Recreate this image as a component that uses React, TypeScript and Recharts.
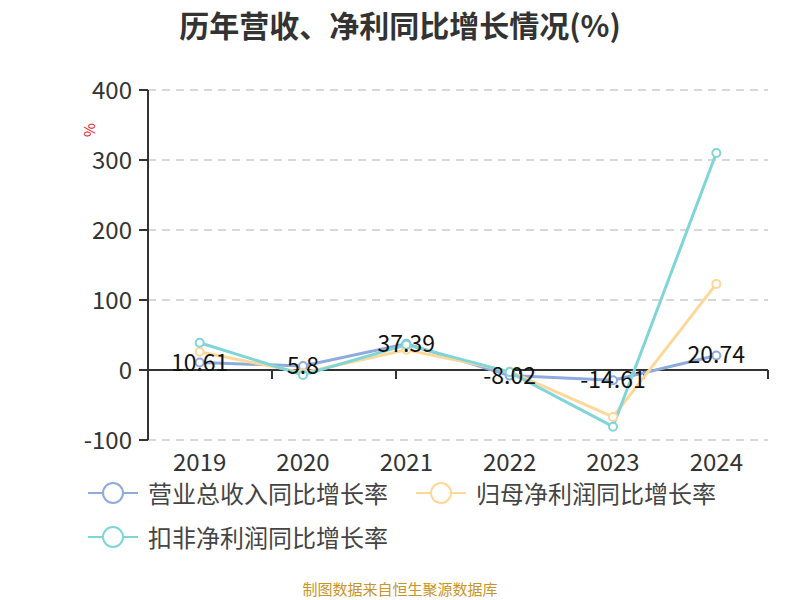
import { LineChart, Line, XAxis, YAxis, CartesianGrid, ReferenceLine, Legend, LabelList } from "recharts";

const years = ["2019", "2020", "2021", "2022", "2023", "2024"];
const revenueGrowth = [10.61, 5.8, 37.39, -8.02, -14.61, 20.74];
const netProfitGrowth = [26, -4, 29, -2, -67, 123];
const deductedProfitGrowth = [39, -7, 36, -3, -81, 310];
const yTicks = [-100, 0, 100, 200, 300, 400];

const SERIES = [
  { key: "revenue", name: "营业总收入同比增长率", color: "#8fabdd" },
  { key: "netProfit", name: "归母净利润同比增长率", color: "#fdd899" },
  { key: "deducted", name: "扣非净利润同比增长率", color: "#80d5d8" },
];

const FONT = "'Noto Sans CJK SC', 'Noto Sans', sans-serif";

const data = years.map((year, i) => ({
  year,
  revenue: revenueGrowth[i],
  netProfit: netProfitGrowth[i],
  deducted: deductedProfitGrowth[i],
}));

// category boundaries, used for the tick marks on the zero line
const boundaries = years.map((_, i) => i).concat(years.length);

const renderLegend = () => (
  <div style={{ display: "flex", flexWrap: "wrap", width: 660, rowGap: 22, columnGap: 28, fontFamily: FONT }}>
    {SERIES.map(s => (
      <div key={s.key} style={{ display: "flex", alignItems: "center", height: 22 }}>
        <svg width={50} height={22}>
          <line x1={0} y1={11} x2={50} y2={11} stroke={s.color} strokeWidth={2} />
          <circle cx={25} cy={11} r={10} fill="#fff" stroke={s.color} strokeWidth={2} />
        </svg>
        <span style={{ marginLeft: 10, fontSize: 24, lineHeight: "22px", color: "#444" }}>{s.name}</span>
      </div>
    ))}
  </div>
);

const renderValueLabel = (props: any) => {
  const { x, y, value } = props;
  return (
    <text x={x} y={y - 2} textAnchor="middle" dominantBaseline="central" fontSize={23} fill="#111" fontFamily={FONT}>
      {value}
    </text>
  );
};

const renderUnit = (props: any) => {
  const { viewBox } = props;
  const x = viewBox.x + viewBox.width - 60;
  const y = viewBox.y + 40;
  return (
    <text x={x} y={y} transform={`rotate(-90, ${x}, ${y})`} textAnchor="middle" dominantBaseline="central" fontSize={15} fill="#e8151b" fontFamily={FONT}>
      %
    </text>
  );
};

const App = () => {
  return (
    <div style={{ position: "absolute", left: 0, top: 0, width: 800, height: 600, background: "#fff", fontFamily: FONT }}>
      <div style={{ position: "absolute", top: 2, width: 800, textAlign: "center", fontSize: 30, fontWeight: "bold", color: "#333" }}>
        历年营收、净利同比增长情况(%)
      </div>
      <LineChart width={800} height={600} data={data} margin={{ top: 90, right: 32, bottom: 130, left: 88 }}>
        <CartesianGrid horizontal vertical={false} stroke="#ccc" strokeDasharray="8 6" strokeWidth={1.5} />
        <XAxis
          dataKey="year"
          xAxisId="cat"
          scale="band"
          height={30}
          axisLine={false}
          tickLine={false}
          tickMargin={8}
          tick={{ fontSize: 24, fill: "#333", fontFamily: FONT }}
        />
        <XAxis xAxisId="num" type="number" domain={[0, years.length]} hide />
        <YAxis
          width={60}
          domain={[-100, 400]}
          ticks={yTicks}
          interval={0}
          axisLine={{ stroke: "#333", strokeWidth: 2 }}
          tickLine={{ stroke: "#333", strokeWidth: 2 }}
          tickSize={9}
          tickMargin={7}
          tick={{ fontSize: 24, fill: "#333", fontFamily: FONT }}
          label={renderUnit}
        />
        <ReferenceLine y={0} xAxisId="num" stroke="#333" strokeWidth={2} />
        {boundaries.map(b => (
          <ReferenceLine
            key={b}
            xAxisId="num"
            segment={[{ x: b, y: 0 }, { x: b, y: -13 }]}
            stroke="#333"
            strokeWidth={2}
          />
        ))}
        {SERIES.map(s => (
          <Line
            key={s.key}
            xAxisId="cat"
            type="linear"
            dataKey={s.key}
            name={s.name}
            stroke={s.color}
            strokeWidth={3}
            dot={{ r: 4, fill: "#fff", stroke: s.color, strokeWidth: 2 }}
            isAnimationActive={false}
          />
        ))}
        <Line xAxisId="cat" dataKey="revenue" stroke="none" dot={false} legendType="none" isAnimationActive={false}>
          <LabelList dataKey="revenue" content={renderValueLabel} />
        </Line>
        <Legend
          layout="horizontal"
          verticalAlign="middle"
          align="center"
          content={renderLegend}
          wrapperStyle={{ top: 482, left: 88, width: 660 }}
        />
      </LineChart>
      <div style={{ position: "absolute", top: 578, width: 800, textAlign: "center", fontSize: 15, color: "#c8952a" }}>
        制图数据来自恒生聚源数据库
      </div>
    </div>
  );
};

export default App;
